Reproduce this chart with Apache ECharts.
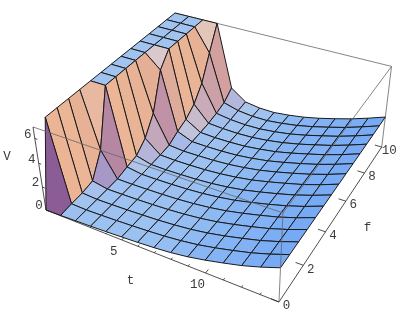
<!DOCTYPE html>
<html lang="en">
<head>
    <meta charset="UTF-8">
    <title>V(t, f)</title>
    <script src="https://cdn.jsdelivr.net/npm/echarts@6/dist/echarts.min.js"></script>
    <style>
        html, body { margin: 0; padding: 0; background: #fff; }
        #main { width: 400px; height: 325px; }
    </style>
</head>
<body>
<div id="main"></div>
<script type="text/javascript">
    // values, one row per t step (0..14), one column per f step (0..10 in 14 cells)
    var V00 = [0, 6.9, 6.9, 6.9, 6.9, 6.9, 6.9, 6.9, 6.9, 6.9, 6.9, 6.9, 6.9, 6.9, 6.9];
    var V01 = [.03, .12, .17, .36, 2.24, 6.9, 6.9, 6.9, 6.9, 6.9, 6.9, 6.9, 6.9, 6.9, 6.9];
    var V02 = [.08, .08, .09, .1, .13, .35, .52, 1.29, 2.75, 5.77, 6.9, 6.9, 6.9, 6.9, 6.9];
    var V03 = [.13, .12, .12, .12, .12, .14, .17, .21, .29, .75, 1.09, 1.73, 2.92, 4.95, 6.9];
    var V04 = [.19, .17, .16, .15, .15, .15, .15, .16, .17, .23, .29, .37, .54, .79, 1.45];
    var V05 = [.26, .24, .22, .2, .19, .18, .18, .18, .19, .21, .23, .28, .35, .44, .52];
    var V06 = [.34, .32, .29, .27, .25, .24, .23, .22, .22, .23, .24, .25, .27, .3, .33];
    var V07 = [.44, .42, .4, .38, .36, .34, .33, .32, .31, .3, .3, .3, .3, .3, .3];
    var V08 = [.58, .57, .55, .53, .52, .5, .49, .48, .47, .46, .46, .45, .45, .45, .45];
    var V09 = [.79, .78, .77, .75, .74, .72, .71, .7, .69, .68, .67, .67, .66, .66, .66];
    var V10 = [1.08, 1.07, 1.06, 1.05, 1.04, 1.03, 1.02, 1.01, 1, .99, .98, .97, .97, .96, .96];
    var V11 = [1.42, 1.41, 1.4, 1.39, 1.38, 1.37, 1.36, 1.36, 1.35, 1.34, 1.34, 1.33, 1.33, 1.32, 1.32];
    var V12 = [1.79, 1.78, 1.77, 1.76, 1.75, 1.75, 1.74, 1.73, 1.73, 1.72, 1.72, 1.71, 1.71, 1.71, 1.71];
    var V13 = [2.25, 2.24, 2.23, 2.22, 2.21, 2.2, 2.2, 2.19, 2.18, 2.18, 2.17, 2.17, 2.17, 2.17, 2.17];
    var V14 = [2.78, 2.77, 2.76, 2.75, 2.74, 2.73, 2.72, 2.71, 2.7, 2.69, 2.68, 2.68, 2.67, 2.67, 2.67];
    var surface = [V00, V01, V02, V03, V04, V05, V06, V07, V08, V09, V10, V11, V12, V13, V14];

    var tTicks = [5, 10];
    var tMinorTicks = [1, 2, 3, 4, 6, 7, 8, 9, 11, 12, 13];
    var fTicks = [0, 2, 4, 6, 8, 10];
    var vTicks = [0, 2, 4, 6];
    var tMax = 14, fMax = 10, vTop = 6.9;

    // cells where the clip at the box top cuts a corner, their colour is not from the slope
    var clippedColors = { '0,0': '#8b5c96', '0,4': '#e8b9a0', '1,9': '#d9c8cd', '2,13': '#e2c6ba' };

    // perspective of the box: u along t, v along f, w up, all 0..1
    function project(u, v, w) {
        var d = 1 - .1311 * u + .21 * v - .0659 * w;
        return [(46 + 196.4 * u + 169.4 * v - 15.17 * w) / d, (210 + 52.4 * u - 103.76 * v - 91.37 * w) / d];
    }

    function shade(i, j) {
        var key = i + ',' + j;
        if (clippedColors[key]) return clippedColors[key];
        var a = surface[i][j], b = surface[i][j + 1], c = surface[i + 1][j], d = surface[i + 1][j + 1];
        var k = 14 * .4 / vTop;
        var nx = -((c - a) + (d - b)) / 2 * k;
        var ny = -((b - a) + (d - c)) / 2 * k;
        // real height is far above the clip there, so the strip is steeper than what we draw
        if (a === vTop && b === vTop && (c < vTop || d < vTop)) {
            nx = Math.max(nx, 5.4);
            ny *= .3;
        }
        var len = Math.sqrt(nx * nx + ny * ny + 1);
        nx /= len; ny /= len;
        var nz = 1 / len;
        var r = 129 + 102 * nx + 87 * ny + 31 * nz;
        var g = 119 + 49 * nx + 91 * ny + 76 * nz;
        var bl = 163 - 28 * nx - 10 * ny + 77 * nz;
        return 'rgb(' + Math.round(r) + ',' + Math.round(g) + ',' + Math.round(bl) + ')';
    }

    // far cells first so that near ones paint over them
    var cells = [];
    for (var i = 0; i < tMax; i++) {
        for (var j = tMax - 1; j >= 0; j--) {
            cells.push([i, j]);
        }
    }

    function renderCell(params, api) {
        var i = api.value(0), j = api.value(1);
        var corners = [[i, j], [i, j + 1], [i + 1, j + 1], [i + 1, j]];
        var points = corners.map(function (c) {
            return api.coord(project(c[0] / 14, c[1] / 14, surface[c[0]][c[1]] / vTop));
        });
        return {
            type: 'polygon',
            shape: { points: points },
            style: { fill: shade(i, j), stroke: '#1a1a1a', lineWidth: 1, lineJoin: 'round' }
        };
    }

    function renderSegment(params, api) {
        var p = api.coord(project(api.value(0), api.value(1), api.value(2)));
        var q = api.coord(project(api.value(3), api.value(4), api.value(5)));
        return {
            type: 'line',
            shape: { x1: p[0], y1: p[1], x2: q[0], y2: q[1] },
            style: { stroke: api.value(6) ? '#222' : '#666', lineWidth: .8 }
        };
    }

    function renderLabel(params, api) {
        var p = api.coord([api.value(0), api.value(1)]);
        return {
            type: 'text',
            style: {
                x: p[0], y: p[1], text: labels[params.dataIndex][2],
                fill: '#3c3c3c', font: '12.5px "Liberation Mono"', align: 'center', verticalAlign: 'middle'
            }
        };
    }

    // last number: 1 for the dark axis edges, 0 for the thin box edges
    var backLines = [
        [0, 1, 1, 1, 1, 1, 0],
        [1, 1, 1, 1, 1, 0, 0]
    ];
    var frontLines = [
        [0, 0, 0, 1, 0, 0, 1],
        [1, 0, 0, 1, 1, 0, 1],
        [0, 0, 1, 1, 0, 1, 0],
        [1, 0, 1, 1, 1, 1, 0],
        [1, 0, 0, 1, 0, 1, 0],
        [0, 0, 0, 0, 0, 1, 1]
    ];
    var labels = [];

    tMinorTicks.forEach(function (t) {
        backLines.push([t / tMax, 0, 0, t / tMax, .01, 0, 1]);
    });
    tTicks.forEach(function (t) {
        var u = t / tMax;
        backLines.push([u, 0, 0, u, .02, 0, 1]);
        var p = project(u, 0, 0);
        labels.push([p[0] - 8, p[1] + 11.5, String(t)]);
    });
    fTicks.forEach(function (f) {
        var v = f / fMax;
        backLines.push([1, v, 0, .97, v, 0, 1]);
        var p = project(1, v, 0);
        labels.push([p[0] + 7.5, p[1] + 4, String(f)]);
    });
    vTicks.forEach(function (n) {
        var w = n / vTop;
        frontLines.push([0, 0, w, .012, 0, w, 1]);
        var p = project(0, 0, w);
        labels.push([p[0] - 7, p[1] - 4, String(n)]);
    });
    labels.push([130.5, 281, 't']);
    labels.push([367.5, 228, 'f']);
    labels.push([7, 157, 'V']);

    var myChart = echarts.init(document.getElementById('main'), null, { renderer: 'canvas' });
    myChart.setOption({
        animation: false,
        backgroundColor: '#fff',
        // flat picture plane, the box projection lands on it
        grid: { left: 0, right: 0, top: 0, bottom: 0 },
        xAxis: { type: 'value', min: 0, max: 400, show: false },
        yAxis: { type: 'value', min: 0, max: 325, inverse: true, show: false },
        series: [
            { type: 'custom', coordinateSystem: 'cartesian2d', clip: false, silent: true, z: 1, data: backLines, renderItem: renderSegment },
            { type: 'custom', coordinateSystem: 'cartesian2d', clip: false, silent: true, z: 2, data: cells, renderItem: renderCell },
            { type: 'custom', coordinateSystem: 'cartesian2d', clip: false, silent: true, z: 3, data: frontLines, renderItem: renderSegment },
            { type: 'custom', coordinateSystem: 'cartesian2d', clip: false, silent: true, z: 4, data: labels, renderItem: renderLabel }
        ]
    });
</script>
</body>
</html>
